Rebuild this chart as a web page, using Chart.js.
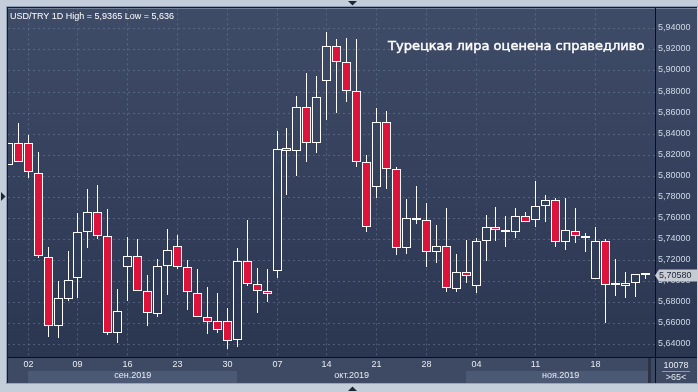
<!DOCTYPE html>
<html>
<head>
<meta charset="utf-8">
<script src="https://cdn.jsdelivr.net/npm/chart.js@4.4.1/dist/chart.umd.min.js"></script>
<style>
  html, body { margin: 0; padding: 0; background: #c4cedb; }
  canvas { display: block; }
</style>
</head>
<body>
<canvas id="chart" width="698" height="392"></canvas>
<script>
// daily bars, USD/TRY (Sunday bars included in november)
const dates = [
  '2019-08-29', '2019-08-30',
  '2019-09-02', '2019-09-03', '2019-09-04', '2019-09-05', '2019-09-06',
  '2019-09-09', '2019-09-10', '2019-09-11', '2019-09-12', '2019-09-13',
  '2019-09-16', '2019-09-17', '2019-09-18', '2019-09-19', '2019-09-20',
  '2019-09-23', '2019-09-24', '2019-09-25', '2019-09-26', '2019-09-27',
  '2019-09-30', '2019-10-01', '2019-10-02', '2019-10-03', '2019-10-04',
  '2019-10-07', '2019-10-08', '2019-10-09', '2019-10-10', '2019-10-11',
  '2019-10-14', '2019-10-15', '2019-10-16', '2019-10-17', '2019-10-18',
  '2019-10-21', '2019-10-22', '2019-10-23', '2019-10-24', '2019-10-25',
  '2019-10-28', '2019-10-29', '2019-10-30', '2019-10-31', '2019-11-01',
  '2019-11-04', '2019-11-05', '2019-11-06', '2019-11-07', '2019-11-08',
  '2019-11-10', '2019-11-11', '2019-11-12', '2019-11-13', '2019-11-14', '2019-11-15',
  '2019-11-17', '2019-11-18', '2019-11-19', '2019-11-20', '2019-11-21', '2019-11-22',
  '2019-11-24'
];
const opens = [
  5.8107, 5.8316, 5.8316, 5.8031, 5.7225, 5.6571, 5.6832, 5.7026, 5.7462, 5.7652,
  5.7424, 5.6504, 5.7130, 5.7234, 5.6903, 5.6685, 5.7140, 5.7329, 5.7130, 5.6884,
  5.6656, 5.6618, 5.6618, 5.6438, 5.7187, 5.6969, 5.6903, 5.7092, 5.8268, 5.8240,
  5.8657, 5.8316, 5.8904, 5.9235, 5.9084, 5.8809, 5.8135, 5.7889, 5.8515, 5.8060,
  5.7310, 5.7604, 5.7576, 5.7278, 5.7329, 5.6927, 5.7083, 5.6950, 5.7377, 5.7510,
  5.7481, 5.7462, 5.7614, 5.7576, 5.7718, 5.7775, 5.7367, 5.7472, 5.7424, 5.7016,
  5.7377, 5.6960, 5.6950, 5.6979, 5.7058
];
const highs = [
  5.8316, 5.8499, 5.8385, 5.8224, 5.7323, 5.7000, 5.7285, 5.7645, 5.7873, 5.7911,
  5.7683, 5.6924, 5.7415, 5.7399, 5.7057, 5.7209, 5.7493, 5.7436, 5.7199, 5.7114,
  5.6943, 5.6887, 5.6741, 5.7310, 5.7579, 5.7121, 5.7114, 5.8423, 5.8451, 5.8755,
  5.8976, 5.8944, 5.9365, 5.9302, 5.9311, 5.9302, 5.8202, 5.8648, 5.8612, 5.8088,
  5.7778, 5.7901, 5.7740, 5.7531, 5.7693, 5.7256, 5.7389, 5.7408, 5.7626, 5.7701,
  5.7614, 5.7699, 5.7652, 5.7946, 5.7816, 5.7794, 5.7787, 5.7690, 5.7453, 5.7510,
  5.7396, 5.7206, 5.7083, 5.7064, 5.7058
];
const lows = [
  5.8107, 5.8135, 5.7980, 5.7216, 5.6472, 5.6463, 5.6813, 5.6842, 5.7316, 5.7396,
  5.6488, 5.6415, 5.6813, 5.6903, 5.6576, 5.6656, 5.6870, 5.7114, 5.6728, 5.6656,
  5.6500, 5.6510, 5.6360, 5.6377, 5.6950, 5.6694, 5.6804, 5.7032, 5.7816, 5.8000,
  5.8132, 5.8217, 5.8530, 5.8596, 5.8704, 5.8079, 5.7462, 5.7785, 5.7870, 5.7244,
  5.7253, 5.7547, 5.7130, 5.7168, 5.6900, 5.6896, 5.6984, 5.6887, 5.7193, 5.7377,
  5.7326, 5.7405, 5.7557, 5.7515, 5.7566, 5.7326, 5.7297, 5.7358, 5.7278, 5.7016,
  5.6599, 5.6861, 5.6842, 5.6851, 5.7016
];
const closes = [
  5.8316, 5.8135, 5.8034, 5.7234, 5.6571, 5.6836, 5.7007, 5.7462, 5.7652, 5.7424,
  5.6504, 5.6713, 5.7234, 5.6903, 5.6694, 5.7140, 5.7294, 5.7130, 5.6893, 5.6656,
  5.6614, 5.6538, 5.6428, 5.7187, 5.6969, 5.6903, 5.6874, 5.8259, 5.8240, 5.8657,
  5.8316, 5.8752, 5.9235, 5.9084, 5.8809, 5.8135, 5.7510, 5.8515, 5.8060, 5.7310,
  5.7604, 5.7576, 5.7272, 5.7329, 5.6931, 5.7083, 5.7045, 5.7377, 5.7510, 5.7481,
  5.7462, 5.7614, 5.7566, 5.7718, 5.7775, 5.7367, 5.7481, 5.7424, 5.7405, 5.7377,
  5.6960, 5.6960, 5.6979, 5.7064, 5.7058
];
const monthKeys = ['2019-09', '2019-10', '2019-11'];
const monthLabels = ['сен.2019', 'окт.2019', 'ноя.2019'];
const yTicks = [5.64, 5.66, 5.68, 5.70, 5.72, 5.74, 5.76, 5.78, 5.80, 5.82, 5.84, 5.86, 5.88, 5.90, 5.92, 5.94];
const title = 'USD/TRY 1D High = 5,9365 Low = 5,636';
const headline = 'Турецкая лира оценена справедливо';
const volumeText = '10078';
const countText = '>65<';

const RED = '#dc143c';
const FONT = '"Liberation Sans", Arial, sans-serif';
Chart.defaults.font.family = FONT;

// linear scale that snaps to the pixel grid so 1px candle lines stay crisp
class SnapScale extends Chart.LinearScale {
  getPixelForValue(v) {
    const p = super.getPixelForValue(v);
    const half = this.isHorizontal() ? 0.5 : 0;
    return Math.round(p - half) + half;
  }
}
SnapScale.id = 'snap';
SnapScale.defaults = Chart.LinearScale.defaults;
Chart.register(SnapScale);

// mondays get a day label
const mondays = [];
dates.forEach((d, i) => {
  if (new Date(d + 'T00:00:00Z').getUTCDay() === 1) mondays.push(i);
});
const monthStarts = monthKeys.map(k => dates.findIndex(d => d.startsWith(k)));
const monthEnds = monthStarts.map((s, i) => i < monthStarts.length - 1 ? monthStarts[i + 1] : dates.length);
const monthMids = monthStarts.map((s, i) => (s + monthEnds[i]) / 2);

const fmt = v => v.toFixed(5).replace('.', ',');

function panelGradient(ctx, top, bottom) {
  const g = ctx.createLinearGradient(0, top, 0, bottom);
  g.addColorStop(0, '#3f4c67');
  g.addColorStop(1, '#2b3651');
  return g;
}

const bodyFill = c => {
  const i = c.dataIndex;
  if (closes[i] < opens[i]) return RED;
  const a = c.chart.chartArea;
  if (!a) return '#35415b';
  return panelGradient(c.chart.ctx, a.top, a.bottom);
};

const frame = {
  id: 'frame',
  beforeDraw(chart) {
    const ctx = chart.ctx;
    const a = chart.chartArea;
    const x = chart.scales.x;
    ctx.save();
    ctx.fillStyle = '#c4cedb';
    ctx.fillRect(0, 0, chart.width, chart.height);
    ctx.fillStyle = '#8e9bb0';
    ctx.fillRect(6, 6, chart.width - 6, 1);
    ctx.fillRect(6, 6, 1, 378);
    ctx.fillStyle = '#161c28';
    ctx.fillRect(7, 7, chart.width - 8, 1);
    ctx.fillRect(7, 7, 1, 377);

    ctx.fillStyle = panelGradient(ctx, a.top, a.bottom);
    ctx.fillRect(a.left, a.top, 697 - a.left, a.bottom - a.top);

    // bottom strip with month bands
    ctx.fillStyle = '#3e4a64';
    ctx.fillRect(a.left, a.bottom, 697 - a.left, 383 - a.bottom);
    ctx.fillStyle = '#4b5975';
    monthStarts.forEach((s, i) => {
      if (i % 2 === 1) return;
      const x0 = Math.floor(x.getPixelForValue(s));
      const x1 = Math.min(Math.floor(x.getPixelForValue(monthEnds[i])), 648);
      ctx.fillRect(x0, 371, x1 - x0, 12);
    });
    ctx.fillStyle = '#2a3347';
    ctx.fillRect(648, a.bottom + 1, 3, 383 - a.bottom - 1);
    ctx.fillStyle = '#9aa6b8';
    ctx.fillRect(7, 383, chart.width - 7, 1);
    ctx.restore();
  },
  afterDraw(chart) {
    const ctx = chart.ctx;
    const a = chart.chartArea;
    const y = chart.scales.y;
    ctx.save();
    // separators
    ctx.fillStyle = '#0b0f18';
    ctx.fillRect(a.left, a.bottom, 697 - a.left, 1);
    ctx.fillRect(a.right, a.top, 1, 383 - a.top);

    ctx.fillStyle = '#ffffff';
    ctx.textBaseline = 'alphabetic';
    ctx.textAlign = 'left';
    ctx.font = '9px ' + FONT;
    ctx.fillText(title, 10, 18.5);
    ctx.font = '13px "DejaVu Sans", sans-serif';
    ctx.strokeStyle = '#ffffff';
    ctx.lineWidth = 0.45;
    ctx.fillText(headline, 388, 49.5);
    ctx.strokeText(headline, 388, 49.5);

    // last price tag
    const last = closes[closes.length - 1];
    const py = Math.round(y.getPixelForValue(last)) + 0.5;
    ctx.fillStyle = '#c6cbd4';
    ctx.beginPath();
    ctx.moveTo(655, py);
    ctx.lineTo(659, py - 6);
    ctx.lineTo(697, py - 6);
    ctx.lineTo(697, py + 6);
    ctx.lineTo(659, py + 6);
    ctx.closePath();
    ctx.fill();
    ctx.fillStyle = '#1e2535';
    ctx.font = '9px ' + FONT;
    ctx.textBaseline = 'middle';
    ctx.fillText(fmt(last), 659, py + 0.5);

    // bottom-right box
    ctx.fillStyle = '#e6ebf2';
    ctx.textAlign = 'center';
    ctx.fillText(volumeText, 676, 365.5);
    ctx.fillText(countText, 676, 378);
    ctx.fillStyle = '#8d99ad';
    ctx.fillRect(662, 371, 28, 1);

    // frame markers
    ctx.fillStyle = '#1f2636';
    ctx.beginPath();
    ctx.moveTo(348, 1); ctx.lineTo(357, 1); ctx.lineTo(352.5, 5.5); ctx.closePath(); ctx.fill();
    ctx.beginPath();
    ctx.moveTo(348, 391); ctx.lineTo(357, 391); ctx.lineTo(352.5, 386.5); ctx.closePath(); ctx.fill();
    ctx.beginPath();
    ctx.moveTo(1, 192); ctx.lineTo(1, 201); ctx.lineTo(5.5, 196.5); ctx.closePath(); ctx.fill();
    ctx.restore();
  }
};

const gridColor = 'rgba(112,126,154,0.55)';

new Chart(document.getElementById('chart'), {
  type: 'bar',
  data: {
    datasets: [
      {
        label: 'body',
        data: dates.map((d, i) => ({ x: i, y: [opens[i], closes[i]] })),
        backgroundColor: bodyFill,
        borderColor: '#ffffff',
        borderWidth: 1,
        borderSkipped: false,
        inflateAmount: 0,
        barThickness: 9,
        minBarLength: 2,
        grouped: false,
        clip: 0,
        order: 0
      },
      {
        label: 'wick',
        data: dates.map((d, i) => ({ x: i, y: [lows[i], highs[i]] })),
        backgroundColor: '#ffffff',
        borderWidth: 0,
        inflateAmount: 0,
        barThickness: 1,
        grouped: false,
        clip: 0,
        order: 1
      }
    ]
  },
  options: {
    responsive: false,
    animation: false,
    devicePixelRatio: 1,
    events: [],
    layout: { padding: { left: 8, top: 8, right: 1, bottom: 9 } },
    plugins: {
      legend: { display: false },
      tooltip: { enabled: false }
    },
    scales: {
      x: {
        type: 'snap',
        position: 'bottom',
        offset: false,
        min: -0.03,
        max: 64.975,
        bounds: 'data',
        afterBuildTicks: s => { s.ticks = mondays.map(v => ({ value: v })); },
        afterFit: s => { s.height = 13; },
        ticks: {
          autoSkip: false,
          maxRotation: 0,
          padding: 2,
          color: '#e6ebf2',
          font: { size: 9 },
          callback: v => dates[v].slice(8)
        },
        grid: { color: gridColor, drawTicks: false, offset: false },
        border: { color: '#0b0f18', width: 1, dash: [2, 3] }
      },
      xm: {
        type: 'linear',
        position: 'bottom',
        offset: false,
        min: -0.03,
        max: 64.975,
        bounds: 'data',
        afterBuildTicks: s => { s.ticks = monthMids.map(v => ({ value: v })); },
        afterFit: s => { s.height = 13; },
        ticks: {
          autoSkip: false,
          maxRotation: 0,
          padding: 0,
          color: '#e6ebf2',
          font: { size: 9 },
          callback: (v, i) => monthLabels[i]
        },
        grid: { display: false, drawTicks: false, offset: false },
        border: { display: false }
      },
      y: {
        type: 'snap',
        position: 'right',
        min: 5.628,
        max: 5.9589,
        bounds: 'data',
        afterBuildTicks: s => { s.ticks = yTicks.map(v => ({ value: v })); },
        afterFit: s => { s.width = 42; },
        ticks: {
          padding: 3,
          color: '#cdd8e8',
          font: { size: 9 },
          callback: v => fmt(v)
        },
        grid: { color: gridColor, drawTicks: false },
        border: { color: '#0b0f18', width: 1, dash: [2, 3] }
      }
    }
  },
  plugins: [frame]
});
</script>
</body>
</html>
